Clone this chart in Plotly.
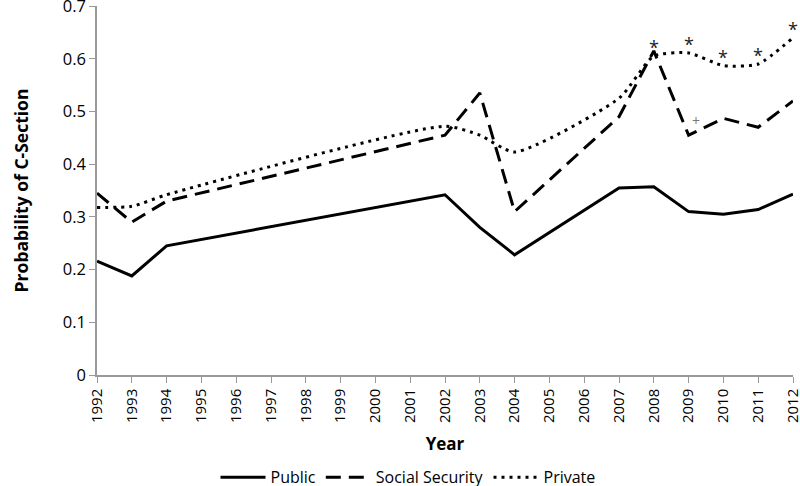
import plotly.graph_objects as go

years = [1992, 1993, 1994, 2002, 2003, 2004, 2007, 2008, 2009, 2010, 2011, 2012]
public = [0.216, 0.188, 0.245, 0.342, 0.280, 0.228, 0.355, 0.357, 0.310, 0.305, 0.314, 0.343]
social_security = [0.345, 0.290, 0.330, 0.455, 0.535, 0.310, 0.490, 0.615, 0.455, 0.487, 0.470, 0.520]
private = [0.318, 0.320, 0.342, 0.472, 0.455, 0.423, 0.525, 0.605, 0.611, 0.587, 0.590, 0.640]

star_years = [2008, 2009, 2010, 2011, 2012]
plus_years = [2009]

font = "'Open Sans', Lato, sans-serif"

fig = go.Figure()
fig.add_trace(go.Scatter(x=years, y=public, mode="lines", name="Public",
                         line=dict(color="black", width=3), cliponaxis=False))
fig.add_trace(go.Scatter(x=years, y=social_security, mode="lines", name="Social Security",
                         line=dict(color="black", width=3, dash="15px,8px"), cliponaxis=False))
fig.add_trace(go.Scatter(x=years, y=private, mode="lines", name="Private",
                         line=dict(color="black", width=3, dash="3px,5px", shape="spline", smoothing=0.6),
                         cliponaxis=False))

for yr in star_years:
    fig.add_annotation(x=yr, y=private[years.index(yr)], text="*", showarrow=False,
                       yshift=9, font=dict(size=18, color="#222", family=font))
for yr in plus_years:
    fig.add_annotation(x=yr, y=social_security[years.index(yr)], text="+", showarrow=False,
                       xshift=7, yshift=15, font=dict(size=14, color="#777", family=font))

fig.update_layout(
    width=800, height=486,
    margin=dict(l=97, r=7, t=6, b=111, autoexpand=False),
    paper_bgcolor="white", plot_bgcolor="white",
    font=dict(family=font, size=14, color="black"),
    showlegend=True,
    legend=dict(orientation="h", x=0.51, xanchor="center", xref="container",
                y=0.018, yanchor="middle", yref="container",
                font=dict(size=16), itemwidth=45, traceorder="normal"),
)
fig.update_xaxes(range=[1992, 2012], tickmode="array", tickvals=list(range(1992, 2013)),
                 ticktext=[str(y) for y in range(1992, 2013)], tickangle=-90,
                 showline=True, linecolor="#999", linewidth=1.5, ticks="outside",
                 tickcolor="#999", ticklen=6, showgrid=False, zeroline=False,
                 tickfont=dict(size=15), automargin=False, ticklabeloverflow="allow",
                 title=dict(text="<b>Year</b>", font=dict(size=17), standoff=16))
fig.update_yaxes(range=[0, 0.7001], tickvals=[0, 0.1, 0.2, 0.3, 0.4, 0.5, 0.6, 0.7],
                 ticktext=["0", "0.1", "0.2", "0.3", "0.4", "0.5", "0.6", "0.7"],
                 showline=True, linecolor="#999", linewidth=1.5, ticks="outside",
                 tickcolor="#999", ticklen=6, showgrid=False, zeroline=False,
                 tickfont=dict(size=16.5), automargin=False, ticklabeloverflow="allow",
                 title=dict(text="<b>Probability of C-Section</b>", font=dict(size=17.5), standoff=30))

fig.write_html("out.html", config={"displayModeBar": False},
               post_script="document.body.style.margin='0';document.body.style.padding='0';")
